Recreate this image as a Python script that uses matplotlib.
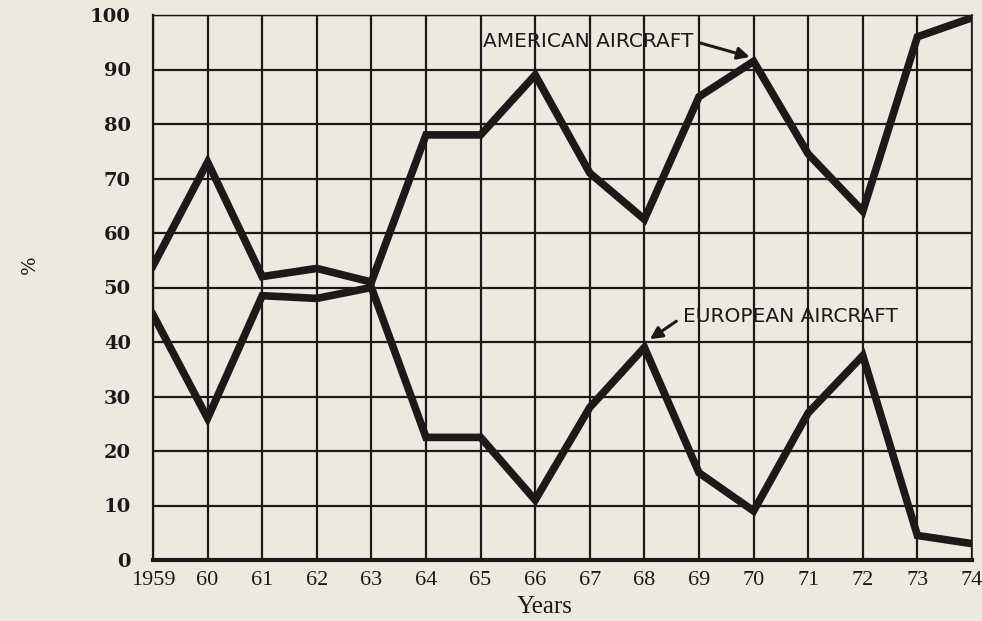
import matplotlib
matplotlib.use("Agg")
import matplotlib.pyplot as plt

years = list(range(1959, 1975))
year_labels = ["1959", "60", "61", "62", "63", "64", "65", "66", "67", "68",
               "69", "70", "71", "72", "73", "74"]
american = [54, 73, 52, 53.5, 51, 78, 78, 89, 71, 62.5, 85, 91.5, 74.5, 64, 96, 99.5]
european = [45, 26, 48.5, 48, 50, 22.5, 22.5, 11, 28, 39, 16, 9, 27, 37.5, 4.5, 3]
y_ticks = [0, 10, 20, 30, 40, 50, 60, 70, 80, 90, 100]

bg = "#ebeae0"
ink = "#1c1919"

fig = plt.figure(figsize=(9.82, 6.21), dpi=100, facecolor=bg)
ax = fig.add_axes([153/982, 1 - 560/621, (972-153)/982, (560-15)/621])
ax.set_facecolor(bg)

ax.set_xlim(1959, 1974)
ax.set_ylim(0, 100)

ax.set_xticks(years)
ax.set_xticklabels(year_labels, fontfamily="Liberation Serif", fontsize=16, color=ink)
ax.set_yticks(y_ticks)
ax.set_yticklabels([str(v) for v in y_ticks], fontfamily="DejaVu Serif",
                   fontsize=14, fontweight="bold", color=ink)
ax.tick_params(axis="both", length=0)
ax.tick_params(axis="y", pad=16)
ax.tick_params(axis="x", pad=8)

ax.grid(True, color=ink, linewidth=1.6)
ax.set_axisbelow(True)

for side in ["left", "right", "top"]:
    ax.spines[side].set_color(ink)
ax.spines["left"].set_linewidth(1.6)
ax.spines["right"].set_linewidth(1.2)
ax.spines["top"].set_linewidth(1.0)
ax.spines["bottom"].set_color(ink)
ax.spines["bottom"].set_linewidth(3.0)

ax.plot(years, american, color=ink, linewidth=5.5, solid_joinstyle="miter", zorder=3)
ax.plot(years, european, color=ink, linewidth=5.5, solid_joinstyle="miter", zorder=3)

ax.annotate("AMERICAN AIRCRAFT", xy=(1969.93, 92.3), xytext=(1965.05, 95.2),
            fontfamily="DejaVu Sans", fontsize=14.5, color=ink, va="center", ha="left",
            arrowprops=dict(arrowstyle="-|>", color=ink, lw=2.2, mutation_scale=18,
                            shrinkA=3, shrinkB=0, relpos=(1, 0.5)))
ax.annotate("EUROPEAN AIRCRAFT", xy=(1968.1, 40.5), xytext=(1968.7, 44.6),
            fontfamily="DejaVu Sans", fontsize=14.5, color=ink, va="center", ha="left",
            arrowprops=dict(arrowstyle="-|>", color=ink, lw=2.2, mutation_scale=18,
                            shrinkA=3, shrinkB=0, relpos=(0, 0.5)))

fig.text(30/982, 1 - 265/621, "%", rotation=90, fontfamily="DejaVu Serif",
         fontsize=14, color=ink, ha="center", va="center")
fig.text(545/982, 1 - 607/621, "Years", fontfamily="Liberation Serif",
         fontsize=18, color=ink, ha="center", va="center")

fig.savefig("out.png", dpi=100, facecolor=bg)
